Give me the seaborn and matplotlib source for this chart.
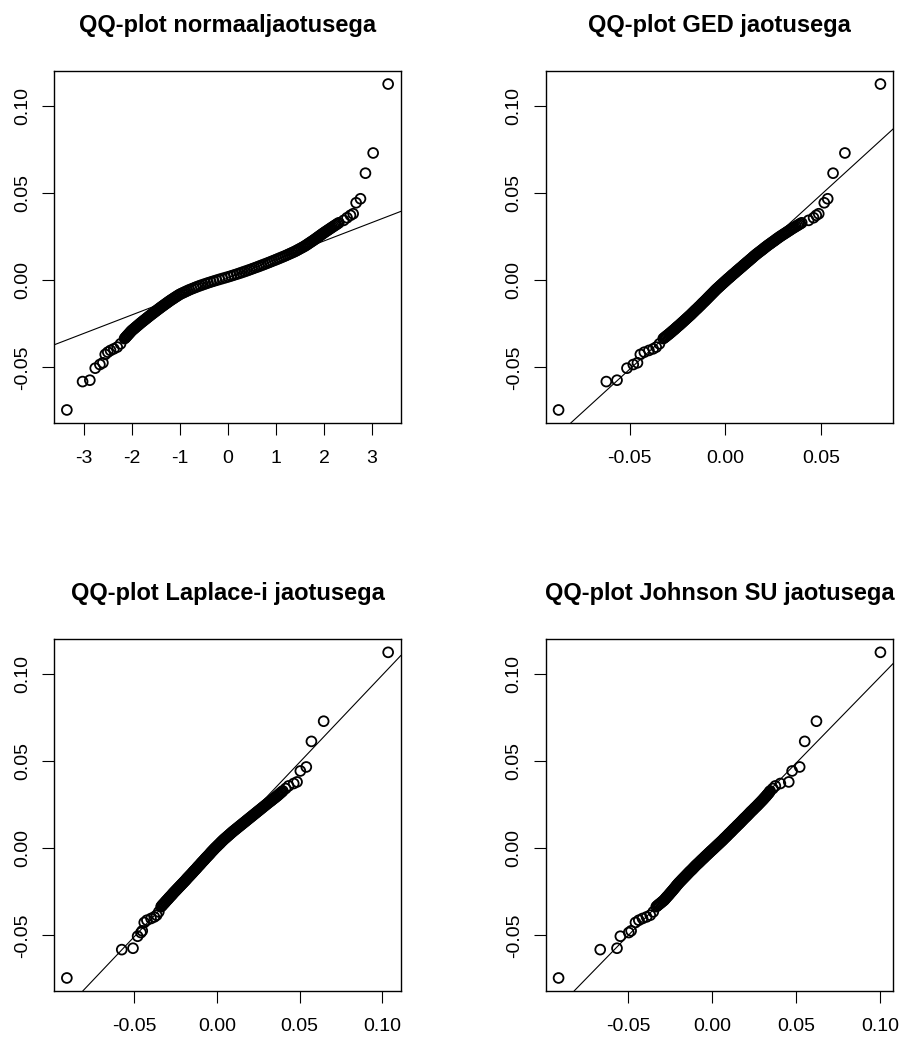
import numpy as np
import pandas as pd
import seaborn as sns
import matplotlib.pyplot as plt

# ---------------- data ----------------
# sorted sample quantiles (common to all four panels)
sample_low = [-0.0745, -0.0582, -0.0574, -0.0505, -0.0484, -0.0474, -0.0426, -0.0413, -0.0403, -0.0394, -0.0384, -0.0365]
sample_mid = [
    -0.0335, -0.0330, -0.0325, -0.0320, -0.0315, -0.0310, -0.0305, -0.0300, -0.0295, -0.0290,
    -0.0285, -0.0280, -0.0275, -0.0270, -0.0265, -0.0260, -0.0255, -0.0250, -0.0245, -0.0240,
    -0.0235, -0.0230, -0.0225, -0.0220, -0.0215, -0.0210, -0.0205, -0.0200, -0.0195, -0.0190,
    -0.0185, -0.0180, -0.0175, -0.0170, -0.0165, -0.0160, -0.0155, -0.0150, -0.0145, -0.0140,
    -0.0135, -0.0130, -0.0125, -0.0120, -0.0115, -0.0110, -0.0105, -0.0100, -0.0095, -0.0090,
    -0.0085, -0.0080, -0.0075, -0.0070, -0.0065, -0.0060, -0.0055, -0.0050, -0.0045, -0.0040,
    -0.0035, -0.0030, -0.0025, -0.0020, -0.0015, -0.0010, -0.0005, 0.0000, 0.0005, 0.0010,
    0.0015, 0.0020, 0.0025, 0.0030, 0.0035, 0.0040, 0.0045, 0.0050, 0.0055, 0.0060,
    0.0065, 0.0070, 0.0075, 0.0080, 0.0085, 0.0090, 0.0095, 0.0100, 0.0105, 0.0110,
    0.0115, 0.0120, 0.0125, 0.0130, 0.0135, 0.0140, 0.0145, 0.0150, 0.0155, 0.0160,
    0.0165, 0.0170, 0.0175, 0.0180, 0.0185, 0.0190, 0.0195, 0.0200, 0.0205, 0.0210,
    0.0215, 0.0220, 0.0225, 0.0230, 0.0235, 0.0240, 0.0245, 0.0250, 0.0255, 0.0260,
    0.0265, 0.0270, 0.0275, 0.0280, 0.0285, 0.0290, 0.0295, 0.0300, 0.0305, 0.0310,
    0.0315, 0.0320, 0.0325, 0.0330]
sample_high = [0.0344, 0.0359, 0.0373, 0.0382, 0.0445, 0.0468, 0.0615, 0.0731, 0.1127]

# theoretical quantiles, normal distribution
normal_low = [-3.347, -3.020, -2.869, -2.757, -2.660, -2.598, -2.549, -2.495, -2.439, -2.370, -2.300, -2.230]
normal_mid = [
    -2.147, -2.130, -2.114, -2.098, -2.082, -2.065, -2.049, -2.033, -2.016, -2.000,
    -1.979, -1.957, -1.936, -1.915, -1.894, -1.872, -1.851, -1.830, -1.809, -1.786,
    -1.764, -1.741, -1.718, -1.695, -1.673, -1.650, -1.627, -1.605, -1.581, -1.557,
    -1.533, -1.510, -1.486, -1.462, -1.438, -1.414, -1.390, -1.365, -1.340, -1.315,
    -1.290, -1.265, -1.240, -1.215, -1.189, -1.161, -1.133, -1.106, -1.078, -1.050,
    -1.022, -0.992, -0.954, -0.915, -0.877, -0.838, -0.800, -0.755, -0.709, -0.664,
    -0.618, -0.568, -0.516, -0.463, -0.411, -0.353, -0.294, -0.235, -0.175, -0.113,
    -0.050, 0.012, 0.071, 0.129, 0.188, 0.242, 0.295, 0.347, 0.400, 0.450,
    0.500, 0.550, 0.600, 0.648, 0.695, 0.743, 0.790, 0.836, 0.882, 0.927,
    0.973, 1.017, 1.061, 1.104, 1.148, 1.191, 1.232, 1.272, 1.312, 1.352,
    1.392, 1.427, 1.460, 1.493, 1.527, 1.560, 1.593, 1.622, 1.649, 1.676,
    1.703, 1.730, 1.757, 1.784, 1.810, 1.835, 1.860, 1.885, 1.910, 1.935,
    1.960, 1.985, 2.011, 2.038, 2.065, 2.092, 2.119, 2.146, 2.173, 2.200,
    2.228, 2.255, 2.283, 2.310]
normal_high = [2.410, 2.480, 2.551, 2.607, 2.669, 2.759, 2.863, 3.023, 3.335]

# theoretical quantiles, GED
ged_low = [-0.0873, -0.0623, -0.0567, -0.0515, -0.0482, -0.0460, -0.0445, -0.0424, -0.0400, -0.0378, -0.0362, -0.0345]
ged_mid = [
    -0.0325, -0.0319, -0.0313, -0.0308, -0.0302, -0.0296, -0.0291, -0.0285, -0.0280, -0.0275,
    -0.0269, -0.0264, -0.0259, -0.0254, -0.0249, -0.0243, -0.0238, -0.0233, -0.0228, -0.0223,
    -0.0218, -0.0213, -0.0208, -0.0203, -0.0198, -0.0193, -0.0188, -0.0183, -0.0178, -0.0174,
    -0.0169, -0.0164, -0.0160, -0.0155, -0.0150, -0.0145, -0.0141, -0.0136, -0.0131, -0.0127,
    -0.0122, -0.0118, -0.0113, -0.0108, -0.0104, -0.0099, -0.0095, -0.0090, -0.0086, -0.0081,
    -0.0077, -0.0072, -0.0068, -0.0063, -0.0059, -0.0054, -0.0050, -0.0045, -0.0040, -0.0035,
    -0.0030, -0.0025, -0.0020, -0.0015, -0.0010, -0.0005, 0.0000, 0.0005, 0.0010, 0.0015,
    0.0021, 0.0026, 0.0031, 0.0036, 0.0041, 0.0047, 0.0052, 0.0057, 0.0062, 0.0068,
    0.0073, 0.0078, 0.0084, 0.0089, 0.0094, 0.0099, 0.0105, 0.0110, 0.0115, 0.0121,
    0.0126, 0.0131, 0.0137, 0.0142, 0.0147, 0.0152, 0.0158, 0.0163, 0.0169, 0.0175,
    0.0181, 0.0187, 0.0193, 0.0199, 0.0204, 0.0210, 0.0216, 0.0222, 0.0228, 0.0235,
    0.0241, 0.0247, 0.0254, 0.0260, 0.0266, 0.0272, 0.0279, 0.0285, 0.0292, 0.0299,
    0.0306, 0.0313, 0.0320, 0.0327, 0.0334, 0.0341, 0.0348, 0.0355, 0.0363, 0.0370,
    0.0378, 0.0385, 0.0393, 0.0400]
ged_high = [0.0436, 0.0462, 0.0476, 0.0489, 0.0518, 0.0536, 0.0564, 0.0626, 0.0812]

# theoretical quantiles, Laplace
laplace_low = [-0.0908, -0.0576, -0.0508, -0.0480, -0.0460, -0.0452, -0.0440, -0.0424, -0.0399, -0.0379, -0.0365, -0.0352]
laplace_mid = [
    -0.0338, -0.0333, -0.0329, -0.0324, -0.0319, -0.0314, -0.0310, -0.0305, -0.0300, -0.0295,
    -0.0291, -0.0286, -0.0281, -0.0276, -0.0271, -0.0267, -0.0262, -0.0257, -0.0252, -0.0247,
    -0.0242, -0.0237, -0.0232, -0.0227, -0.0222, -0.0217, -0.0212, -0.0207, -0.0202, -0.0197,
    -0.0192, -0.0187, -0.0183, -0.0178, -0.0173, -0.0168, -0.0163, -0.0158, -0.0153, -0.0148,
    -0.0144, -0.0139, -0.0134, -0.0129, -0.0124, -0.0120, -0.0115, -0.0110, -0.0105, -0.0100,
    -0.0096, -0.0091, -0.0086, -0.0081, -0.0076, -0.0072, -0.0067, -0.0062, -0.0057, -0.0052,
    -0.0047, -0.0042, -0.0038, -0.0033, -0.0028, -0.0023, -0.0018, -0.0013, -0.0008, -0.0002,
    0.0003, 0.0008, 0.0014, 0.0019, 0.0024, 0.0029, 0.0035, 0.0040, 0.0046, 0.0052,
    0.0058, 0.0064, 0.0070, 0.0076, 0.0082, 0.0088, 0.0094, 0.0100, 0.0107, 0.0113,
    0.0120, 0.0126, 0.0133, 0.0139, 0.0146, 0.0152, 0.0159, 0.0165, 0.0172, 0.0178,
    0.0185, 0.0191, 0.0198, 0.0204, 0.0211, 0.0217, 0.0224, 0.0230, 0.0237, 0.0243,
    0.0250, 0.0256, 0.0263, 0.0269, 0.0276, 0.0282, 0.0289, 0.0295, 0.0302, 0.0308,
    0.0315, 0.0322, 0.0329, 0.0335, 0.0342, 0.0349, 0.0355, 0.0362, 0.0368, 0.0374,
    0.0380, 0.0386, 0.0392, 0.0398]
laplace_high = [0.0415, 0.0433, 0.0464, 0.0484, 0.0504, 0.0540, 0.0571, 0.0645, 0.1035]

# theoretical quantiles, Johnson SU
johnson_low = [-0.0914, -0.0666, -0.0566, -0.0546, -0.0496, -0.0482, -0.0456, -0.0436, -0.0414, -0.0390, -0.0368, -0.0350]
johnson_mid = [
    -0.0332, -0.0326, -0.0320, -0.0314, -0.0307, -0.0301, -0.0295, -0.0288, -0.0283, -0.0279,
    -0.0274, -0.0270, -0.0265, -0.0260, -0.0256, -0.0251, -0.0247, -0.0242, -0.0238, -0.0233,
    -0.0229, -0.0225, -0.0220, -0.0216, -0.0212, -0.0208, -0.0203, -0.0199, -0.0194, -0.0189,
    -0.0184, -0.0179, -0.0174, -0.0169, -0.0164, -0.0159, -0.0154, -0.0149, -0.0144, -0.0139,
    -0.0134, -0.0129, -0.0123, -0.0118, -0.0113, -0.0108, -0.0103, -0.0098, -0.0093, -0.0087,
    -0.0082, -0.0076, -0.0071, -0.0066, -0.0060, -0.0055, -0.0049, -0.0044, -0.0039, -0.0033,
    -0.0028, -0.0022, -0.0017, -0.0011, -0.0006, 0.0000, 0.0006, 0.0011, 0.0017, 0.0022,
    0.0028, 0.0033, 0.0039, 0.0044, 0.0050, 0.0055, 0.0061, 0.0066, 0.0071, 0.0076,
    0.0082, 0.0087, 0.0092, 0.0097, 0.0102, 0.0108, 0.0113, 0.0118, 0.0123, 0.0128,
    0.0133, 0.0139, 0.0144, 0.0149, 0.0154, 0.0160, 0.0165, 0.0170, 0.0175, 0.0180,
    0.0185, 0.0190, 0.0195, 0.0201, 0.0206, 0.0211, 0.0216, 0.0221, 0.0226, 0.0231,
    0.0236, 0.0242, 0.0247, 0.0252, 0.0257, 0.0263, 0.0268, 0.0273, 0.0278, 0.0283,
    0.0288, 0.0293, 0.0298, 0.0303, 0.0308, 0.0312, 0.0317, 0.0322, 0.0326, 0.0330,
    0.0335, 0.0339, 0.0343, 0.0346]
johnson_high = [0.0362, 0.0377, 0.0407, 0.0457, 0.0477, 0.0522, 0.0552, 0.0622, 0.1003]

# reference (qqline) parameters per panel
line_intercept = [0.0013, -0.0010, -0.0006, -0.0006]
line_slope = [0.01063, 1.0006, 1.0026, 0.9906]

titles = ["QQ-plot normaaljaotusega", "QQ-plot GED jaotusega",
          "QQ-plot Laplace-i jaotusega", "QQ-plot Johnson SU jaotusega"]
x_ticks = [[-3, -2, -1, 0, 1, 2, 3], [-0.05, 0.0, 0.05],
           [-0.05, 0.0, 0.05, 0.10], [-0.05, 0.0, 0.05, 0.10]]
x_formats = ["{:d}", "{:.2f}", "{:.2f}", "{:.2f}"]
y_ticks = [-0.05, 0.0, 0.05, 0.10]

# ---------------- assemble ----------------
sample = sample_low + sample_mid + sample_high
theoretical = [normal_low + normal_mid + normal_high,
               ged_low + ged_mid + ged_high,
               laplace_low + laplace_mid + laplace_high,
               johnson_low + johnson_mid + johnson_high]
for t in theoretical:
    assert len(t) == len(sample), (len(t), len(sample))

frames = []
for i, t in enumerate(theoretical):
    frames.append(pd.DataFrame({"panel": i, "theoretical": t, "sample": sample}))
df = pd.concat(frames, ignore_index=True)

sns.set_theme(style="white")
plt.rcParams['font.family'] = ['Liberation Sans', 'DejaVu Sans']
plt.rcParams['axes.unicode_minus'] = False
plt.rcParams['text.color'] = 'black'
plt.rcParams['axes.titlecolor'] = 'black'

W, H = 901, 1039
fig = plt.figure(figsize=(W / 100, H / 100), dpi=100)

# axes boxes in pixel coordinates (left, top, right, bottom)
boxes_px = [(54, 71, 401, 423), (545.7, 71, 893.3, 423),
            (54, 639.3, 401, 991), (545.7, 639.3, 893.3, 991)]

for i in range(4):
    l, t, r, b = boxes_px[i]
    ax = fig.add_axes([l / W, 1 - b / H, (r - l) / W, (b - t) / H])
    d = df[df["panel"] == i]
    sns.scatterplot(data=d, x="theoretical", y="sample", ax=ax, marker="o",
                    s=50, color="black", edgecolor="black", linewidth=1.3,
                    legend=False, zorder=2)
    coll = ax.collections[0]
    coll.set_facecolor("none")
    coll.set_edgecolor("black")
    coll.set_linewidth(1.3)
    ax.axline((0, line_intercept[i]), slope=line_slope[i], color="black", lw=0.8, zorder=3)

    xs = d["theoretical"].to_numpy()
    ys = d["sample"].to_numpy()
    xr = xs.max() - xs.min()
    yr = ys.max() - ys.min()
    ax.set_xlim(xs.min() - 0.04 * xr, xs.max() + 0.04 * xr)
    ax.set_ylim(ys.min() - 0.04 * yr, ys.max() + 0.04 * yr)

    ax.set_xticks(x_ticks[i], labels=[x_formats[i].format(v) for v in x_ticks[i]])
    ax.set_yticks(y_ticks, labels=["{:.2f}".format(v) for v in y_ticks],
                  rotation=90, va="center")
    ax.tick_params(axis="both", which="major", direction="out", length=8.6,
                   width=0.8, colors="black", labelsize=14,
                   bottom=True, left=True, top=False, right=False)
    ax.tick_params(axis="x", pad=11)
    ax.tick_params(axis="y", pad=8)
    for sp in ax.spines.values():
        sp.set_visible(True)
        sp.set_color("black")
        sp.set_linewidth(1.0)
    ax.set_xlabel("")
    ax.set_ylabel("")
    ax.set_title(titles[i], fontsize=17, fontweight="bold", pad=28, color="black")

fig.savefig("out.png", dpi=100)
